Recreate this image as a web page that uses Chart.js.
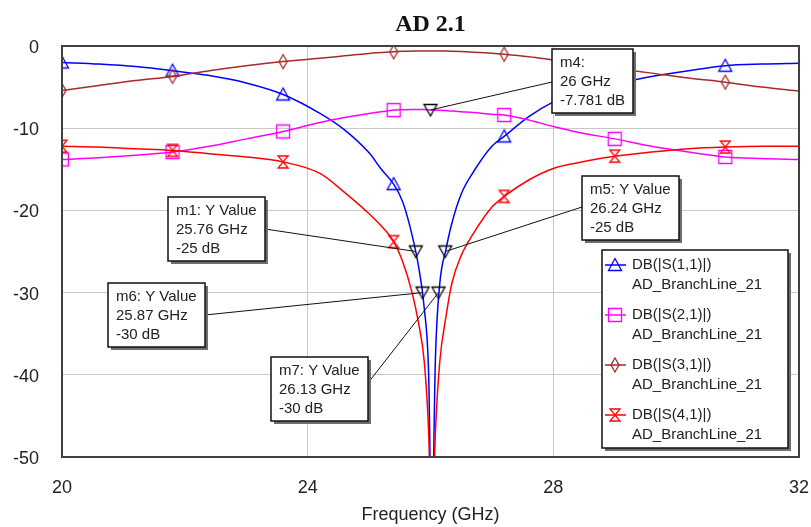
<!DOCTYPE html>
<html>
<head>
<meta charset="utf-8">
<script src="https://cdn.jsdelivr.net/npm/chart.js@4.4.0/dist/chart.umd.min.js"></script>
<style>
    html, body { margin: 0; padding: 0; background: #fff; }
    canvas { display: block; }
</style>
</head>
<body>
<canvas id="sparam" width="811" height="527"></canvas>
<script>
var freqs = [20, 20.6, 21.2, 21.8, 22.4, 23.0, 23.6, 24.2, 24.6, 25.0, 25.2, 25.4, 25.55, 25.7, 25.8, 25.9, 25.97,
    26.02, 26.08, 26.15, 26.25, 26.35, 26.5, 26.7, 27.0, 27.2, 27.6, 28.0, 28.4, 29.0, 29.6, 30.2, 30.8, 31.4, 32];
var s11 = [-2.0, -2.2, -2.5, -3.0, -3.6, -4.5, -5.9, -8.2, -10.2, -13.0, -15.0, -16.8, -19.0, -23.0, -26.6, -32.0, -40,
    -60, -38, -29, -24.8, -21.5, -18.0, -15.3, -12.2, -11.0, -8.6, -6.8, -5.6, -4.6, -3.7, -3.0, -2.4, -2.2, -2.1];
var s21 = [-13.8, -13.6, -13.3, -12.9, -12.2, -11.3, -10.4, -9.3, -8.7, -8.2, -8.0, -7.8, -7.75, -7.72, -7.72, -7.74, -7.77,
    -7.78, -7.8, -7.82, -7.86, -7.92, -8.0, -8.1, -8.3, -8.4, -9.0, -9.8, -10.5, -11.3, -12.2, -12.9, -13.5, -13.7, -13.8];
var s31 = [-5.4, -4.8, -4.2, -3.7, -3.0, -2.4, -1.9, -1.5, -1.2, -0.9, -0.8, -0.7, -0.65, -0.62, -0.6, -0.6, -0.6,
    -0.6, -0.6, -0.61, -0.62, -0.64, -0.68, -0.75, -0.88, -1.0, -1.3, -1.7, -2.1, -2.7, -3.3, -3.9, -4.4, -5.0, -5.5];
var s41 = [-12.2, -12.3, -12.5, -12.7, -13.1, -13.5, -14.1, -15.5, -17.8, -20.4, -21.9, -23.8, -26.3, -30.0, -33.5, -38.5, -47,
    -60, -47, -38.5, -33, -28.8, -25.5, -22.8, -19.6, -18.3, -16.3, -14.9, -14.2, -13.4, -12.9, -12.5, -12.3, -12.2, -12.2];

// frequencies where the trace symbols sit
var symbolFreqs = [20, 21.8, 23.6, 25.4, 27.2, 29.0, 30.8];

var traceNames = ['DB(|S(1,1)|)', 'DB(|S(2,1)|)', 'DB(|S(3,1)|)', 'DB(|S(4,1)|)'];
var traceSource = 'AD_BranchLine_21';

var markerNames = ['m1', 'm4', 'm5', 'm6', 'm7'];
var markerTitles = ['m1: Y Value', 'm4:', 'm5: Y Value', 'm6: Y Value', 'm7: Y Value'];
var markerFreqs = [25.76, 26, 26.24, 25.87, 26.13];
var markerDb = [-25, -7.781, -25, -30, -30];
var markerFreqText = ['25.76', '26', '26.24', '25.87', '26.13'];
var markerDbText = ['-25', '-7.781', '-25', '-30', '-30'];

var yTicks = [0, -10, -20, -30, -40, -50];
var xTicks = [20, 24, 28, 32];

// where the marker readout boxes go (top-left corner, in axis units)
var boxPlace = {
    m1: {f: 21.73, db: -18.4, side: 'right', dy: 32},
    m4: {f: 27.98, db: -0.4, side: 'left', dy: 33},
    m5: {f: 28.47, db: -15.85, side: 'left', dy: 31},
    m6: {f: 20.75, db: -28.8, side: 'right', dy: 32},
    m7: {f: 23.40, db: -37.8, side: 'right', dy: 26}
};
var legendPlace = {f: 28.79, db: -24.76, w: 186, h: 198};

var colors = ['#0000ff', '#ff00ff', '#a52a2a', '#ff0000'];
var FONT = '"Liberation Sans", Arial, sans-serif';

function makeSymbol(kind, color) {
    var c = document.createElement('canvas');
    c.width = 18;
    c.height = 18;
    var g = c.getContext('2d');
    g.strokeStyle = color;
    g.lineWidth = 1.3;
    g.translate(9, 9);
    g.beginPath();
    if (kind === 'tri') {
        g.moveTo(0, -6.5); g.lineTo(6.5, 5.5); g.lineTo(-6.5, 5.5); g.closePath();
    } else if (kind === 'square') {
        g.rect(-6.5, -6.5, 13, 13);
    } else if (kind === 'diamond') {
        g.moveTo(0, -7); g.lineTo(4, 0); g.lineTo(0, 7); g.lineTo(-4, 0); g.closePath();
    } else if (kind === 'hourglass') {
        g.moveTo(-5, -6); g.lineTo(5, -6); g.lineTo(-5, 6); g.lineTo(5, 6); g.closePath();
    } else if (kind === 'down') {
        g.moveTo(-6.5, -5.5); g.lineTo(6.5, -5.5); g.lineTo(0, 6); g.closePath();
    }
    g.stroke();
    return c;
}

var symbols = [
    makeSymbol('tri', colors[0]),
    makeSymbol('square', colors[1]),
    makeSymbol('diamond', colors[2]),
    makeSymbol('hourglass', colors[3])
];
var markerSymbol = makeSymbol('down', '#000');

function toPoints(vals) {
    var pts = [];
    for (var i = 0; i < freqs.length; i++) {
        pts.push({x: freqs[i], y: vals[i]});
    }
    return pts;
}

function traceSet(label, vals, idx) {
    return {
        label: label,
        data: toPoints(vals),
        showLine: true,
        borderColor: colors[idx],
        borderWidth: 1.5,
        cubicInterpolationMode: 'monotone',
        pointStyle: symbols[idx],
        pointRadius: function (ctx) {
            return symbolFreqs.indexOf(ctx.raw.x) >= 0 ? 6 : 0;
        },
        order: 4 - idx
    };
}

var markerPoints = [];
for (var i = 0; i < markerNames.length; i++) {
    markerPoints.push({x: markerFreqs[i], y: markerDb[i]});
}

var dataSets = [
    traceSet(traceNames[0], s11, 0),
    traceSet(traceNames[1], s21, 1),
    traceSet(traceNames[2], s31, 2),
    traceSet(traceNames[3], s41, 3),
    {
        label: 'markers',
        data: markerPoints,
        showLine: false,
        pointStyle: markerSymbol,
        pointRadius: 6,
        order: -1
    }
];

function drawShadowBox(ctx, x, y, w, h) {
    ctx.fillStyle = '#6e6e6e';
    ctx.fillRect(x + 3, y + 3, w, h);
    ctx.fillStyle = '#fff';
    ctx.fillRect(x, y, w, h);
    ctx.strokeStyle = '#111';
    ctx.lineWidth = 1.5;
    ctx.strokeRect(x, y, w, h);
}

var overlay = {
    id: 'overlay',
    afterDatasetsDraw: function (chart) {
        var ctx = chart.ctx;
        var a = chart.chartArea;
        var xs = chart.scales.x, ys = chart.scales.y;

        ctx.save();
        // plot frame
        ctx.strokeStyle = '#404040';
        ctx.lineWidth = 2;
        ctx.strokeRect(a.left, a.top, a.right - a.left, a.bottom - a.top);

        ctx.font = '15px ' + FONT;
        ctx.textBaseline = 'middle';
        ctx.textAlign = 'left';

        // marker readouts
        var boxes = [];
        for (var i = 0; i < markerNames.length; i++) {
            var p = boxPlace[markerNames[i]];
            var lines = [markerTitles[i], markerFreqText[i] + ' GHz', markerDbText[i] + ' dB'];
            var w = 0;
            lines.forEach(function (t) { w = Math.max(w, ctx.measureText(t).width); });
            w = Math.round(w + 16);
            var h = 64;
            var bx = Math.round(xs.getPixelForValue(p.f));
            var by = Math.round(ys.getPixelForValue(p.db));
            boxes.push({x: bx, y: by, w: w, h: h, lines: lines});

            var lx = p.side === 'left' ? bx : bx + w;
            ctx.strokeStyle = '#111';
            ctx.lineWidth = 1;
            ctx.beginPath();
            ctx.moveTo(lx, by + p.dy);
            ctx.lineTo(xs.getPixelForValue(markerFreqs[i]), ys.getPixelForValue(markerDb[i]));
            ctx.stroke();
        }
        boxes.forEach(function (b) {
            drawShadowBox(ctx, b.x, b.y, b.w, b.h);
            ctx.fillStyle = '#222';
            b.lines.forEach(function (t, k) {
                ctx.fillText(t, b.x + 8, b.y + 14 + k * 19);
            });
        });

        // legend
        var lx0 = Math.round(xs.getPixelForValue(legendPlace.f));
        var ly0 = Math.round(ys.getPixelForValue(legendPlace.db));
        drawShadowBox(ctx, lx0, ly0, legendPlace.w, legendPlace.h);
        for (var j = 0; j < traceNames.length; j++) {
            var ty = ly0 + 15 + j * 50;
            ctx.strokeStyle = colors[j];
            ctx.lineWidth = 1.5;
            ctx.beginPath();
            ctx.moveTo(lx0 + 3, ty);
            ctx.lineTo(lx0 + 24, ty);
            ctx.stroke();
            ctx.drawImage(symbols[j], lx0 + 13 - 9, ty - 9);
            ctx.fillStyle = '#222';
            ctx.fillText(traceNames[j], lx0 + 30, ty);
            ctx.fillText(traceSource, lx0 + 30, ty + 20);
        }

        // title
        ctx.font = 'bold 24px "Liberation Serif", "Times New Roman", serif';
        ctx.textAlign = 'center';
        ctx.fillStyle = '#111';
        ctx.fillText('AD 2.1', (a.left + a.right) / 2, 25);
        ctx.restore();
    }
};

new Chart(document.getElementById('sparam').getContext('2d'), {
    type: 'scatter',
    data: {
        datasets: dataSets
    },
    options: {
        responsive: false,
        maintainAspectRatio: false,
        animation: false,
        events: [],
        layout: {
            padding: {top: 46, right: 12, left: 0, bottom: 0}
        },
        scales: {
            x: {
                type: 'linear',
                min: xTicks[0],
                max: xTicks[xTicks.length - 1],
                afterFit: function (s) {
                    s.height = 70;
                    s.paddingLeft = 0;
                    s.paddingRight = 0;
                },
                afterBuildTicks: function (s) {
                    s.ticks = xTicks.map(function (v) { return {value: v}; });
                },
                border: {display: false},
                grid: {
                    drawTicks: false,
                    lineWidth: 1,
                    color: function (c) {
                        var v = c.tick && c.tick.value;
                        return (v === 20 || v === 32) ? 'rgba(0,0,0,0)' : '#c8c8c8';
                    }
                },
                ticks: {
                    padding: 20,
                    color: '#222',
                    font: {family: FONT, size: 18}
                },
                title: {
                    display: true,
                    text: 'Frequency (GHz)',
                    color: '#222',
                    font: {family: FONT, size: 18},
                    padding: {top: 0, bottom: 1}
                }
            },
            y: {
                type: 'linear',
                min: -50,
                max: 0,
                afterFit: function (s) { s.width = 62; },
                afterBuildTicks: function (s) {
                    s.ticks = yTicks.map(function (v) { return {value: v}; });
                },
                border: {display: false},
                grid: {
                    drawTicks: false,
                    lineWidth: 1,
                    color: function (c) {
                        var v = c.tick && c.tick.value;
                        return (v === 0 || v === -50) ? 'rgba(0,0,0,0)' : '#c8c8c8';
                    }
                },
                ticks: {
                    padding: 23,
                    labelOffset: 2,
                    color: '#222',
                    font: {family: FONT, size: 18}
                }
            }
        },
        plugins: {
            legend: {display: false},
            tooltip: {enabled: false},
            title: {display: false}
        }
    },
    plugins: [overlay]
});
</script>
</body>
</html>
